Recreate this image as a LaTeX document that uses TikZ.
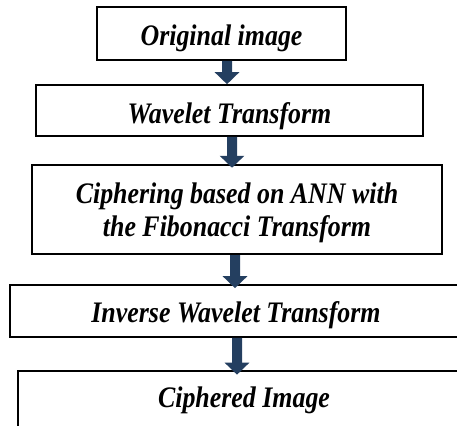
\documentclass[tikz,border=0pt]{standalone}
\usepackage{graphicx}
\usepackage{fontspec}
\setmainfont{Liberation Serif}
\usetikzlibrary{arrows.meta}
\definecolor{arrowblue}{RGB}{36,63,96}
\newcommand{\tallt}[1]{\scalebox{1}[1.15]{#1}}
\begin{document}
\lineskiplimit=-50pt\relax
\begin{tikzpicture}[x=1bp,y=-1bp,
  box/.style={draw=black, line width=1.6bp, inner sep=0pt, text depth=0pt,
    font=\fontsize{26}{33.5}\selectfont\bfseries\itshape},
  arr/.style={draw=arrowblue, line width=10bp,
    -{Triangle[width=24bp,length=12bp]}}]
\useasboundingbox (0,0) rectangle (457,425);
\clip (0,0) rectangle (457,425);
\node[box, minimum width=249bp, minimum height=53bp, text height=23bp] (b1) at (221.5,33.5) {\tallt{Original image}};
\node[box, minimum width=387bp, minimum height=51bp, text height=25bp] (b2) at (229.5,110.5) {\tallt{Wavelet Transform}};
\node[box, line width=2bp, minimum width=410bp, minimum height=89bp, align=center, text depth=] (b3) at (237,209.5) {\rule{0pt}{27bp}\tallt{Ciphering based on ANN with}\\\tallt{the Fibonacci Transform}};
\node[box, minimum width=452bp, minimum height=52bp, text height=22bp] (b4) at (236,311) {\tallt{Inverse Wavelet Transform}};
\node[box, minimum width=452bp, minimum height=69bp, text height=3bp] (b5) at (244,405.5) {\tallt{Ciphered Image}};
\draw[arr] ([xshift=5.5bp]b1.south) -- ([xshift=-2.5bp]b2.north);
\draw[arr] ([xshift=2.5bp]b2.south) -- ([xshift=-5bp,yshift=-3.75bp]b3.north);
\draw[arr] ([xshift=-2bp]b3.south) -- ([xshift=-1bp,yshift=-4bp]b4.north);
\draw[arr] ([xshift=1bp]b4.south) -- ([xshift=-7bp,yshift=-4.5bp]b5.north);
\end{tikzpicture}
\end{document}
